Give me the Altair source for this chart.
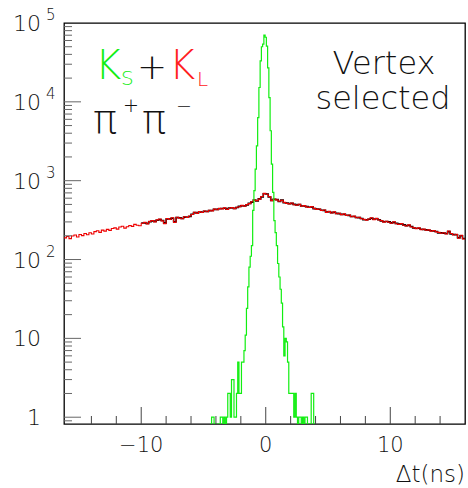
import altair as alt
import pandas as pd

# ---------------- data ----------------
YMIN, YMAX = 0.82, 1e5
XMIN, XMAX = -16.2, 16.0

RED_START, RED_WIDTH = -16.2, 0.2
red_counts = [
    188, 196, 184, 199, 205, 193, 208, 201, 214, 206,
    219, 211, 226, 232, 221, 236, 229, 241, 234, 247,
    252, 243, 258, 264, 250, 261, 270, 263, 279, 272,
    268, 288, 296, 283, 305, 312, 300, 318, 326, 309,
    285, 331, 322, 338, 296, 344, 335, 329, 348, 341,
    356, 372, 398, 385, 407, 394, 412, 403, 421, 414,
    436, 428, 445, 439, 452, 431, 448, 457, 442, 461,
    468, 486, 474, 497, 512, 540, 566, 558, 583, 629,
    691, 672, 627, 558, 585, 571, 548, 562, 530, 515,
    508, 521, 496, 487, 503, 474, 482, 465, 457, 470,
    446, 432, 438, 419, 424, 396, 408, 389, 402, 381,
    386, 371, 379, 361, 367, 349, 355, 338, 344, 329,
    323, 316, 327, 338, 321, 333, 317, 311, 298, 306,
    297, 289, 301, 284, 278, 286, 272, 266, 275, 259,
    254, 246, 252, 239, 243, 235, 238, 229, 233, 224,
    221, 215, 219, 211, 230, 214, 205, 209, 186, 203, 182,
]

BLACK_START, BLACK_WIDTH = -10.0, 0.2
black_counts = [
    291, 290, 287, 301, 309, 305, 315, 322, 312,
    292, 327, 325, 334, 301, 340, 338, 332, 345, 344,
    352, 376, 393, 389, 403, 398, 409, 407, 417, 418,
    432, 433, 441, 443, 447, 436, 451, 453, 446, 457,
    472, 481, 478, 492, 516, 535, 570, 554, 588, 622,
    684, 678, 620, 563, 580, 575, 544, 566, 526, 519,
    512, 516, 500, 491, 498, 478, 478, 469, 461, 466,
    442, 436, 434, 422, 420, 400, 404, 393, 398, 385,
    382, 374, 375, 364, 363, 352, 351, 341, 340, 332,
    320, 319, 324, 334, 324, 329, 320, 308, 301, 303,
    300, 292, 297, 287, 281, 283, 275, 269, 272, 262,
    251, 249, 249, 242, 240, 238, 235, 232, 230, 227,
    218, 218, 216, 214, 226, 211, 208, 206, 189, 200, 185,
]

GREEN_START, GREEN_WIDTH = -4.45, 0.1
green_counts = [
    0, 1, 1, 0, 0, 0, 0, 0, 1, 1, 0, 1, 0, 1, 2, 2, 1, 3, 3, 1, 1, 2, 5, 2, 2,
    5, 5, 7, 11, 24, 45, 80, 110, 150, 420, 750, 1400, 2770, 6300, 15200,
    33000, 50000, 54000, 70000, 66000, 51000, 27000, 11300, 4300, 1620, 710,
    312, 220, 150, 89, 60, 42, 28, 14, 6, 10, 9, 5, 2, 2, 2, 2, 1, 2, 1, 0,
    1, 1, 0, 1, 0, 1, 1, 0, 0, 0, 2, 2, 0,
]

x_major_ticks = [-10, 0, 10]
x_minor_ticks = [-14, -12, -8, -6, -4, -2, 2, 4, 6, 8, 12, 14]
x_tick_labels = ["\u221210", "0", "10"]
y_major_ticks = [1, 10, 100, 1000, 10000]
y_minor_ticks = [0.9,
                 2, 3, 4, 5, 6, 7, 8, 9,
                 20, 30, 40, 50, 60, 70, 80, 90,
                 200, 300, 400, 500, 600, 700, 800, 900,
                 2000, 3000, 4000, 5000, 6000, 7000, 8000, 9000,
                 20000, 30000, 40000, 50000, 60000, 70000, 80000, 90000]
y_label_values = [1, 10, 100, 1000, 10000, 100000]
y_label_base = ["1", "10", "10", "10", "10", "10"]
y_label_exp = ["", "", "2", "3", "4", "5"]

FONT = "DejaVu Sans"
FW = 200
W, H = 401, 401


def hist_df(start, width, counts):
    xs = [start + i * width for i in range(len(counts) + 1)]
    vals = list(counts) + [counts[-1]]
    ys = [v if v > 0 else YMIN for v in vals]
    return pd.DataFrame({"t": xs, "n": ys})


xs = alt.Scale(domain=[XMIN, XMAX], nice=False, zero=False)
ys = alt.Scale(type="log", domain=[YMIN, YMAX], nice=False)
X = alt.X("t:Q", scale=xs, axis=None)
Y = alt.Y("n:Q", scale=ys, axis=None)


def hist_layer(df, color, sw):
    return alt.Chart(df).mark_line(
        interpolate="step-after", color=color, strokeWidth=sw, clip=True
    ).encode(x=X, y=Y)


black = hist_layer(hist_df(BLACK_START, BLACK_WIDTH, black_counts), "#000000", 1.6)
red = hist_layer(hist_df(RED_START, RED_WIDTH, red_counts), "#ee0000", 1.1)
green = hist_layer(hist_df(GREEN_START, GREEN_WIDTH, green_counts), "#11ee11", 1.2)

# inward ticks
ytick_major = alt.Chart(pd.DataFrame({"n": y_major_ticks})).mark_rule(
    color="#666", strokeWidth=1).encode(y=Y, x=alt.value(0), x2=alt.value(17))
ytick_minor = alt.Chart(pd.DataFrame({"n": y_minor_ticks})).mark_rule(
    color="#666", strokeWidth=1).encode(y=Y, x=alt.value(0), x2=alt.value(8))
xtick_major = alt.Chart(pd.DataFrame({"t": x_major_ticks})).mark_rule(
    color="#444", strokeWidth=1).encode(x=X, y=alt.value(H), y2=alt.value(H - 17))
xtick_minor = alt.Chart(pd.DataFrame({"t": x_minor_ticks})).mark_rule(
    color="#444", strokeWidth=1).encode(x=X, y=alt.value(H), y2=alt.value(H - 8))

# tick labels
xlab = alt.Chart(pd.DataFrame({"t": x_major_ticks, "lab": x_tick_labels})).mark_text(
    font=FONT, fontWeight=FW, fontSize=21, align="center", baseline="alphabetic",
    color="#111").encode(x=X, y=alt.value(H + 28), text="lab:N")
ydf = pd.DataFrame({"n": y_label_values, "base": y_label_base, "exp": y_label_exp})
ylab = alt.Chart(ydf).mark_text(
    font=FONT, fontWeight=FW, fontSize=22, align="right", baseline="alphabetic",
    dy=8, color="#111").encode(y=Y, x=alt.value(-23), text="base:N")
yexp = alt.Chart(ydf).mark_text(
    font=FONT, fontWeight=FW, fontSize=15, align="left", baseline="alphabetic",
    dy=-3, color="#111").encode(y=Y, x=alt.value(-18), text="exp:N")


def label(txt, x, y, size, color="#111", align="left"):
    return alt.Chart(pd.DataFrame({"s": [txt]})).mark_text(
        font=FONT, fontWeight=FW, fontSize=size, align=align,
        baseline="alphabetic", color=color
    ).encode(x=alt.value(x), y=alt.value(y), text="s:N")


texts = [
    label("K", 31, 56, 40, "#11ee11"),
    label("S", 57, 62, 20, "#11ee11"),
    label("+", 73, 56, 36),
    label("K", 105, 56, 40, "#ff2020"),
    label("L", 133, 63, 20, "#ff2020"),
    label("\u03c0", 29, 110, 40),
    label("+", 59, 89, 19),
    label("\u03c0", 78, 110, 40),
    label("\u2212", 112, 89, 19),
    label("Vertex", 320, 51, 32, align="center"),
    label("selected", 319, 86, 32, align="center"),
    label("\u0394t(ns)", 401, 459, 23, align="right"),
]

chart = alt.layer(
    black, red, green,
    ytick_major, ytick_minor, xtick_major, xtick_minor,
    xlab, ylab, yexp, *texts
).properties(
    width=W, height=H,
    autosize=alt.AutoSizeParams(type="none"),
    padding={"left": 64, "top": 23, "right": 3, "bottom": 64},
    background="white",
).configure_view(stroke="#000", strokeWidth=1.3)

chart.save("out.html", embed_options={"renderer": "svg", "actions": False})
